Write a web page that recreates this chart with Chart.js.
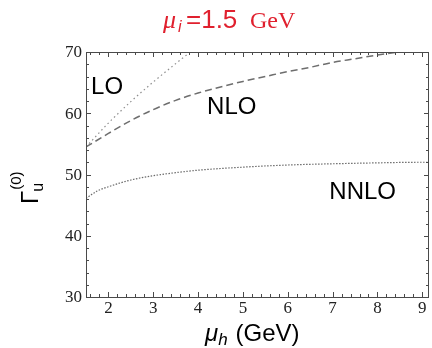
<!DOCTYPE html>
<html>
<head>
<meta charset="utf-8">
<script src="https://cdn.jsdelivr.net/npm/chart.js@4"></script>
<style>
  body { margin: 0; background: #fff; }
  #wrap { width: 432px; height: 348px; position: relative; }
</style>
</head>
<body>
<div id="wrap"><canvas id="gammaChart"></canvas></div>
<script>
// values
const xTicks = [2, 3, 4, 5, 6, 7, 8, 9];
const yTicks = [30, 40, 50, 60, 70];

const loMu = [1.5, 2.0, 2.5, 3.0, 3.5, 4.0];
const loGamma = [54.5, 58.4, 61.9, 65.1, 68.1, 71.0];

const nloMu = [1.5, 2, 2.5, 3, 3.5, 4, 4.5, 5, 5.5, 6, 6.5, 7, 7.5, 8, 8.5, 9, 9.15];
const nloGamma = [54.5, 56.7, 58.8, 60.6, 62.1, 63.3, 64.3, 65.2, 66.0, 66.8, 67.5, 68.3, 68.9, 69.5, 70.0, 70.4, 70.5];

const nnloMu = [1.5, 1.75, 2, 2.5, 3, 3.5, 4, 5, 6, 7, 8, 9, 9.15];
const nnloGamma = [46.1, 47.3, 48.0, 49.1, 49.8, 50.3, 50.7, 51.2, 51.55, 51.75, 51.9, 52.0, 52.0];

function pairs(xs, ys) {
  return xs.map((x, i) => ({ x: x, y: ys[i] }));
}

const frameColor = "#4a4a4a";
const titleRed = "#e0202e";

// Mathematica-style frame: ticks inward on all four sides, labels, titles
const framePlugin = {
  id: "frame",
  afterDraw(chart) {
    const ctx = chart.ctx;
    const area = chart.chartArea;
    const xs = chart.scales.x;
    const ys = chart.scales.y;
    ctx.save();

    ctx.strokeStyle = frameColor;
    ctx.lineWidth = 1;
    ctx.strokeRect(Math.round(area.left) + 0.5, Math.round(area.top) + 0.5,
      Math.round(area.right - area.left) - 1, Math.round(area.bottom - area.top));

    ctx.beginPath();
    for (let v = 1.6; v <= 9.1; v += 0.2) {
      const px = Math.round(xs.getPixelForValue(v)) + 0.5;
      const major = Math.abs(v - Math.round(v)) < 0.01;
      const len = major ? 5 : 3;
      ctx.moveTo(px, area.bottom); ctx.lineTo(px, area.bottom - len);
      ctx.moveTo(px, area.top); ctx.lineTo(px, area.top + len);
    }
    for (let v = 32; v < 70; v += 2) {
      const py = Math.round(ys.getPixelForValue(v)) + 0.5;
      const len = v % 10 === 0 ? 5 : 3;
      ctx.moveTo(area.left, py); ctx.lineTo(area.left + len, py);
      ctx.moveTo(area.right, py); ctx.lineTo(area.right - len, py);
    }
    ctx.stroke();

    // tick labels
    ctx.fillStyle = "#222";
    ctx.font = "17px 'Liberation Serif', 'DejaVu Serif', serif";
    ctx.textAlign = "center";
    ctx.textBaseline = "alphabetic";
    xTicks.forEach(t => ctx.fillText(String(t), xs.getPixelForValue(t), 313));
    ctx.textAlign = "right";
    ctx.textBaseline = "middle";
    yTicks.forEach(t => ctx.fillText(String(t), area.left - 4, ys.getPixelForValue(t) + 1));

    // title
    ctx.fillStyle = titleRed;
    ctx.textBaseline = "alphabetic";
    ctx.textAlign = "left";
    const tb = 28;
    ctx.font = "italic 26px 'Liberation Serif', serif";
    ctx.fillText("\u03bc", 163, tb);
    ctx.font = "italic 16px 'Liberation Sans', sans-serif";
    ctx.fillText("i", 178, tb + 4);
    ctx.font = "26px 'Liberation Sans', sans-serif";
    ctx.fillText("=1.5", 186, tb);
    ctx.font = "24px 'Liberation Serif', serif";
    ctx.fillText("GeV", 250, tb);

    // x axis title
    ctx.fillStyle = "#000";
    let ax = 205;
    const ab = 341;
    ctx.font = "italic 24px 'Liberation Sans', sans-serif";
    ctx.fillText("\u03bc", ax, ab);
    ax += ctx.measureText("\u03bc").width;
    ctx.font = "italic 17px 'Liberation Sans', sans-serif";
    ctx.fillText("h", ax, ab + 4);
    ax += ctx.measureText("h").width + 8;
    ctx.font = "24px 'Liberation Sans', sans-serif";
    ctx.fillText("(GeV)", ax, ab);

    // y axis title, rotated
    ctx.save();
    ctx.translate(38, 204);
    ctx.rotate(-Math.PI / 2);
    ctx.font = "24px 'Liberation Sans', sans-serif";
    ctx.fillText("\u0393", 0, 0);
    const gw = ctx.measureText("\u0393").width;
    ctx.font = "16px 'Liberation Sans', sans-serif";
    ctx.fillText("u", gw - 1, 5);
    ctx.font = "15px 'Liberation Sans', sans-serif";
    ctx.fillText("(0)", gw + 1, -17);
    ctx.restore();

    // curve labels
    ctx.font = "24px 'Liberation Sans', sans-serif";
    ctx.textAlign = "center";
    ctx.textBaseline = "middle";
    ctx.fillText("LO", xs.getPixelForValue(1.97), ys.getPixelForValue(64.2));
    ctx.fillText("NLO", xs.getPixelForValue(4.75), ys.getPixelForValue(60.9));
    ctx.fillText("NNLO", xs.getPixelForValue(7.67), ys.getPixelForValue(47.1));

    ctx.restore();
  }
};

const ctx = document.getElementById("gammaChart").getContext("2d");
new Chart(ctx, {
  type: "line",
  data: {
    datasets: [
      {
        label: "LO",
        data: pairs(loMu, loGamma),
        borderColor: "#8e8e8e",
        borderWidth: 1.2,
        borderDash: [1.5, 3],
        pointRadius: 0,
        cubicInterpolationMode: "monotone",
      },
      {
        label: "NLO",
        data: pairs(nloMu, nloGamma),
        borderColor: "#6e6e6e",
        borderWidth: 1.5,
        borderDash: [7, 4],
        pointRadius: 0,
        cubicInterpolationMode: "monotone",
      },
      {
        label: "NNLO",
        data: pairs(nnloMu, nnloGamma),
        borderColor: "#6a6a6a",
        borderWidth: 1.2,
        borderDash: [1.5, 1.5],
        pointRadius: 0,
        cubicInterpolationMode: "monotone",
      },
    ],
  },
  options: {
    responsive: true,
    maintainAspectRatio: false,
    animation: false,
    layout: { padding: { left: 86, right: 3, top: 52, bottom: 51 } },
    plugins: { legend: { display: false }, tooltip: { enabled: false } },
    scales: {
      x: { type: "linear", min: 1.5, max: 9.15, display: false },
      y: { type: "linear", min: 30, max: 70, display: false },
    },
  },
  plugins: [framePlugin],
});
</script>
</body>
</html>
